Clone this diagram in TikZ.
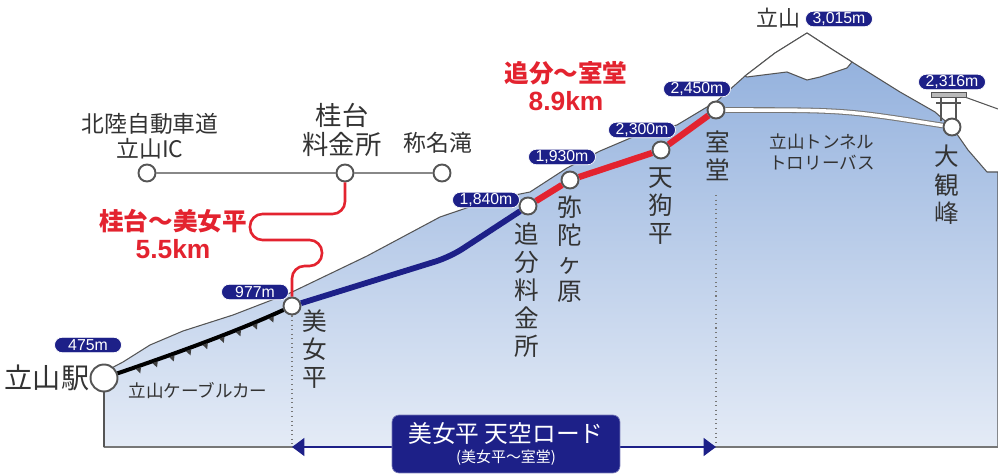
\documentclass[tikz,border=0pt]{standalone}
\usepackage{fontspec}
\setmainfont{Liberation Sans}
\newfontfamily\jp{Noto Sans CJK JP}
\usetikzlibrary{arrows.meta,shapes.misc,decorations.markings}

\definecolor{navy}{HTML}{1D2088}
\definecolor{routered}{HTML}{E3232F}
\definecolor{ink}{HTML}{333333}
\definecolor{rim}{HTML}{555555}
\definecolor{hightone}{HTML}{8FAEDC}
\definecolor{lowtone}{HTML}{E4EBF6}

\tikzset{
  station/.style={circle, draw=rim, fill=white, line width=1.1pt, minimum size=0.34cm, inner sep=0pt},
  bigstation/.style={station, minimum size=0.54cm},
  altbadge/.style={rounded rectangle, fill=navy, draw=white, line width=0.4pt, text=white,
    font=\fontsize{9}{9}\selectfont, minimum width=1.34cm, minimum height=0.31cm, inner sep=0pt},
  vname/.style={anchor=north, inner sep=0pt, text=ink, align=center, font=\jp\fontsize{14}{16}\selectfont},
  placename/.style={text=ink, align=center, inner sep=0pt, font=\jp\fontsize{13}{14}\selectfont},
  kmlabel/.style={text=routered, align=center, inner sep=0pt, font=\jp\bfseries\fontsize{14}{16}\selectfont},
  ridgeline/.style={draw=rim, line width=0.6pt, line join=round},
  rails/.style={postaction={decorate}, decoration={markings,
    mark=between positions 0.12 and 0.95 step 0.1 with {\fill[black!75] (-1.6pt,-1pt) -- (1.6pt,-1pt) -- (0,-4.2pt) -- cycle;}}},
}

\begin{document}
\begin{tikzpicture}[x=0.02cm, y=-0.02cm]
\useasboundingbox (0,0) rectangle (998,476);

% ground
\path[top color=hightone, bottom color=lowtone, ridgeline]
  (104,372) -- (123,362) -- (150,345) -- (183,331) -- (233,315) -- (290,293)
  -- (367,256) -- (440,217) -- (490,200) -- (530,192) -- (567,168) -- (600,151)
  -- (640,134) -- (677,125) -- (717,101) -- (745,76) -- (775,53) -- (807,33)
  -- (830,48) -- (852,62) -- (900,92) -- (935,112) -- (952,127) -- (968,150)
  -- (987,172) -- (998,172) -- (998,447) -- (104,447) -- cycle;
% snow on the summit
\path[fill=white, ridgeline] (745,76) -- (775,53) -- (807,33) -- (830,48) -- (852,62)
  -- (847,68) -- (820,77) -- (807,80) -- (787,72) -- (747,77) -- cycle;
\draw[ridgeline] (962,96) -- (998,109);
\draw[rim!80, line width=1.3pt] (104,447) -- (998,447);
\draw[rim, line width=0.8pt] (104,378) -- (104,447);

% gate at daikanbo
\filldraw[fill=gray!55, draw=rim, line width=0.4pt] (931,92) rectangle (966,97);
\draw[rim, line width=0.9pt] (936,103) -- (961,103);
\draw[rim, line width=0.9pt] (941,97) -- (941,121) (956,97) -- (956,121);

% stations
\node[bigstation] (tstn) at (104,378) {};
\node[station] (bijo) at (292,306) {};
\node[station] (oiwake) at (528,206) {};
\node[station] (mida) at (570,180) {};
\node[station] (tengu) at (661,150) {};
\node[station] (muro) at (716,110) {};
\node[station] (daikan) at (952,127) {};
\node[station] (ic) at (147,173) {};
\node[station] (katsura) at (345,173) {};
\node[station] (shomyo) at (442,173) {};
\coordinate (bijofoot) at (292,447);
\coordinate (murotop) at (716,195);
\coordinate (murofoot) at (716,447);

% lines
\draw[rim!70, line width=1.2pt] (ic) -- (katsura) -- (shomyo);
\draw[line width=2.3pt, rails] (tstn) .. controls (180,352) and (240,330) .. (bijo);
\draw[draw=rim!80, double=white, double distance=2pt, line width=0.6pt] (muro) .. controls (845,110) .. (daikan);
\draw[navy, line width=3.3pt, rounded corners=0.3cm] (bijo) -- (450,257) -- (oiwake);
\draw[routered, line width=3.6pt, line join=round] (oiwake) -- (mida) -- (tengu) -- (muro);
\draw[routered, line width=1.5pt, rounded corners=0.25cm] (katsura) |- (250,214) |- (322,240) |- (292,266) -- (bijo);
\draw[rim!80, dotted, line width=0.6pt] (bijo) -- (bijofoot);
\draw[rim!80, dotted, line width=0.6pt] (murotop) -- (murofoot);
\draw[navy, line width=1.4pt, {Triangle[length=7pt,width=10pt]}-{Triangle[length=7pt,width=10pt]}] (bijofoot) -- (murofoot);

% heights
\node[altbadge] (h475) at (88,345) {475m};
\node[altbadge] (h977) at (255,292) {977m};
\node[altbadge] (h1840) at (486,200) {1,840m};
\node[altbadge] (h1930) at (562,157) {1,930m};
\node[altbadge] (h2300) at (642,130) {2,300m};
\node[altbadge] (h2450) at (697,89) {2,450m};
\node[altbadge] (h3015) at (839,19) {3,015m};
\node[altbadge] (h2316) at (952,82) {2,316m};

% names
\node[placename, anchor=east, font=\jp\fontsize{16}{18}\selectfont] (tstn-l) at (tstn.west) {立山駅};
\node[vname] (bijo-l) at (315,309) {美\\女\\平};
\node[vname] (oiwake-l) at (527,222) {追\\分\\料\\金\\所};
\node[vname] (mida-l) at (570,195) {弥\\陀\\ヶ\\原};
\node[vname] (tengu-l) at (661,167) {天\\狗\\平};
\node[vname] (muro-l) at (718,130) {室\\堂};
\node[vname] (daikan-l) at (947,145) {大\\観\\峰};
\node[placename] (ic-l) at (150,136) {北陸自動車道\\立山IC};
\node[placename, font=\jp\fontsize{15}{16}\selectfont] (katsura-l) at (342,130) {桂台\\料金所};
\node[placename] (shomyo-l) at (438,143) {称名滝};
\node[placename, font=\jp\fontsize{12.5}{13}\selectfont] (peak-l) at (778,18) {立山};
\node[placename, font=\jp\fontsize{10}{12}\selectfont] (cable-l) at (198,391) {立山ケーブルカー};
\node[placename, font=\jp\fontsize{10}{11.5}\selectfont] (tunnel-l) at (822,152) {立山トンネル\\トロリーバス};
\node[kmlabel] (lower-km) at (173,234) {桂台～美女平\\{\rmfamily\fontsize{15}{16}\selectfont 5.5km}};
\node[kmlabel] (upper-km) at (566,86) {追分～室堂\\{\rmfamily\fontsize{15}{16}\selectfont 8.9km}};

% sky road box
\node[fill=navy, draw=navy!60, rounded corners=4pt, minimum width=4.56cm, minimum height=1.16cm,
  text=white, align=center, inner sep=0pt] (skyroad) at (506,444)
  {{\jp\fontsize{13.5}{15}\selectfont 美女平 天空ロード}\\[-1pt]{\jp\fontsize{8.5}{10}\selectfont (美女平～室堂)}};
\end{tikzpicture}
\end{document}
